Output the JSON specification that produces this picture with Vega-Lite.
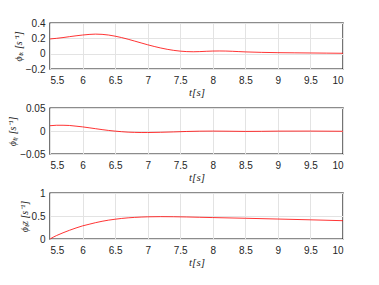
{
  "$schema": "https://vega.github.io/schema/vega-lite/v6.json",
  "padding": {"left": 6, "top": 17, "right": 0, "bottom": 0},
  "background": "white",
  "config": {
    "view": {"stroke": "#1a1a1a", "strokeWidth": 1.4},
    "axis": {
      "labelFont": "Liberation Sans",
      "labelFontSize": 10,
      "labelColor": "#262626",
      "tickColor": "#262626",
      "ticks": false,
      "domain": false,
      "gridColor": "#e3e3e3",
      "titleFont": "Liberation Serif",
      "titleFontStyle": "italic",
      "titleFontWeight": "normal",
      "titleColor": "#262626"
    },
    "line": {"color": "#ff0000", "strokeWidth": 0.8}
  },
  "datasets": {
    "tx": [
      {"t": 5.5, "v": 0.192}, {"t": 5.6, "v": 0.2}, {"t": 5.7, "v": 0.21}, {"t": 5.8, "v": 0.222},
      {"t": 5.9, "v": 0.233}, {"t": 6.0, "v": 0.243}, {"t": 6.1, "v": 0.251}, {"t": 6.2, "v": 0.255},
      {"t": 6.3, "v": 0.252}, {"t": 6.4, "v": 0.243}, {"t": 6.5, "v": 0.228}, {"t": 6.6, "v": 0.21},
      {"t": 6.7, "v": 0.188}, {"t": 6.8, "v": 0.164}, {"t": 6.9, "v": 0.14}, {"t": 7.0, "v": 0.116},
      {"t": 7.1, "v": 0.094}, {"t": 7.2, "v": 0.074}, {"t": 7.3, "v": 0.057}, {"t": 7.4, "v": 0.043},
      {"t": 7.5, "v": 0.033}, {"t": 7.6, "v": 0.027}, {"t": 7.7, "v": 0.025}, {"t": 7.8, "v": 0.027},
      {"t": 7.9, "v": 0.031}, {"t": 8.0, "v": 0.034}, {"t": 8.1, "v": 0.035}, {"t": 8.2, "v": 0.034},
      {"t": 8.3, "v": 0.031}, {"t": 8.4, "v": 0.027}, {"t": 8.5, "v": 0.023}, {"t": 8.75, "v": 0.017},
      {"t": 9.0, "v": 0.013}, {"t": 9.25, "v": 0.011}, {"t": 9.5, "v": 0.009}, {"t": 9.75, "v": 0.007},
      {"t": 10.0, "v": 0.005}
    ],
    "ty": [
      {"t": 5.5, "v": 0.0115}, {"t": 5.6, "v": 0.0125}, {"t": 5.7, "v": 0.0125}, {"t": 5.8, "v": 0.012},
      {"t": 5.9, "v": 0.0105}, {"t": 6.0, "v": 0.009}, {"t": 6.1, "v": 0.007}, {"t": 6.2, "v": 0.005},
      {"t": 6.3, "v": 0.003}, {"t": 6.4, "v": 0.0012}, {"t": 6.5, "v": -0.0003}, {"t": 6.6, "v": -0.0015},
      {"t": 6.7, "v": -0.0025}, {"t": 6.8, "v": -0.003}, {"t": 6.9, "v": -0.0033}, {"t": 7.0, "v": -0.0033},
      {"t": 7.2, "v": -0.0028}, {"t": 7.4, "v": -0.002}, {"t": 7.6, "v": -0.001}, {"t": 7.8, "v": -0.0004},
      {"t": 8.0, "v": -0.0002}, {"t": 8.25, "v": -0.0005}, {"t": 8.5, "v": -0.0009}, {"t": 8.75, "v": -0.0007},
      {"t": 9.0, "v": -0.0003}, {"t": 9.5, "v": -0.0002}, {"t": 10.0, "v": -0.0006}
    ],
    "tz": [
      {"t": 5.5, "v": 0.0}, {"t": 5.55, "v": 0.04}, {"t": 5.6, "v": 0.075}, {"t": 5.7, "v": 0.135},
      {"t": 5.8, "v": 0.19}, {"t": 5.9, "v": 0.24}, {"t": 6.0, "v": 0.285}, {"t": 6.1, "v": 0.32},
      {"t": 6.2, "v": 0.355}, {"t": 6.3, "v": 0.385}, {"t": 6.4, "v": 0.41}, {"t": 6.5, "v": 0.43},
      {"t": 6.6, "v": 0.447}, {"t": 6.7, "v": 0.46}, {"t": 6.8, "v": 0.47}, {"t": 6.9, "v": 0.477},
      {"t": 7.0, "v": 0.482}, {"t": 7.2, "v": 0.486}, {"t": 7.4, "v": 0.484}, {"t": 7.6, "v": 0.479},
      {"t": 7.8, "v": 0.472}, {"t": 8.0, "v": 0.466}, {"t": 8.5, "v": 0.451}, {"t": 9.0, "v": 0.434},
      {"t": 9.5, "v": 0.417}, {"t": 10.0, "v": 0.398}
    ]
  },
  "vconcat": [
    {
      "width": 293, "height": 46,
      "data": {"name": "tx"},
      "mark": {"type": "line", "clip": true},
      "encoding": {
        "x": {"field": "t", "type": "quantitative", "scale": {"domain": [5.5, 10], "nice": false, "zero": false},
              "axis": {"title": "t[s]", "values": [5.5, 6, 6.5, 7, 7.5, 8, 8.5, 9, 9.5, 10], "format": "~g", "labelPadding": 6, "titlePadding": 1, "titleFontSize": 11}},
        "y": {"field": "v", "type": "quantitative", "scale": {"domain": [-0.2, 0.4], "nice": false},
              "axis": {"title": "ϕₜₓ [s⁻¹]", "values": [-0.2, 0, 0.2, 0.4], "format": "~g", "labelPadding": 5, "titlePadding": 2, "titleFontSize": 10}}
      }
    },
    {
      "width": 293, "height": 46,
      "data": {"name": "ty"},
      "mark": {"type": "line", "clip": true},
      "encoding": {
        "x": {"field": "t", "type": "quantitative", "scale": {"domain": [5.5, 10], "nice": false, "zero": false},
              "axis": {"title": "t[s]", "values": [5.5, 6, 6.5, 7, 7.5, 8, 8.5, 9, 9.5, 10], "format": "~g", "labelPadding": 6, "titlePadding": 1, "titleFontSize": 11}},
        "y": {"field": "v", "type": "quantitative", "scale": {"domain": [-0.05, 0.05], "nice": false},
              "axis": {"title": "ϕₜᵧ [s⁻¹]", "values": [-0.05, 0, 0.05], "format": "~g", "labelPadding": 5, "titlePadding": 2, "titleFontSize": 10}}
      }
    },
    {
      "width": 293, "height": 46,
      "data": {"name": "tz"},
      "mark": {"type": "line", "clip": true},
      "encoding": {
        "x": {"field": "t", "type": "quantitative", "scale": {"domain": [5.5, 10], "nice": false, "zero": false},
              "axis": {"title": "t[s]", "values": [5.5, 6, 6.5, 7, 7.5, 8, 8.5, 9, 9.5, 10], "format": "~g", "labelPadding": 6, "titlePadding": 1, "titleFontSize": 11}},
        "y": {"field": "v", "type": "quantitative", "scale": {"domain": [0, 1], "nice": false},
              "axis": {"title": "ϕₜz [s⁻¹]", "values": [0, 0.5, 1], "format": "~g", "labelPadding": 5, "titlePadding": 2, "titleFontSize": 10}}
      }
    }
  ],
  "spacing": 39,
  "bounds": "flush"
}
